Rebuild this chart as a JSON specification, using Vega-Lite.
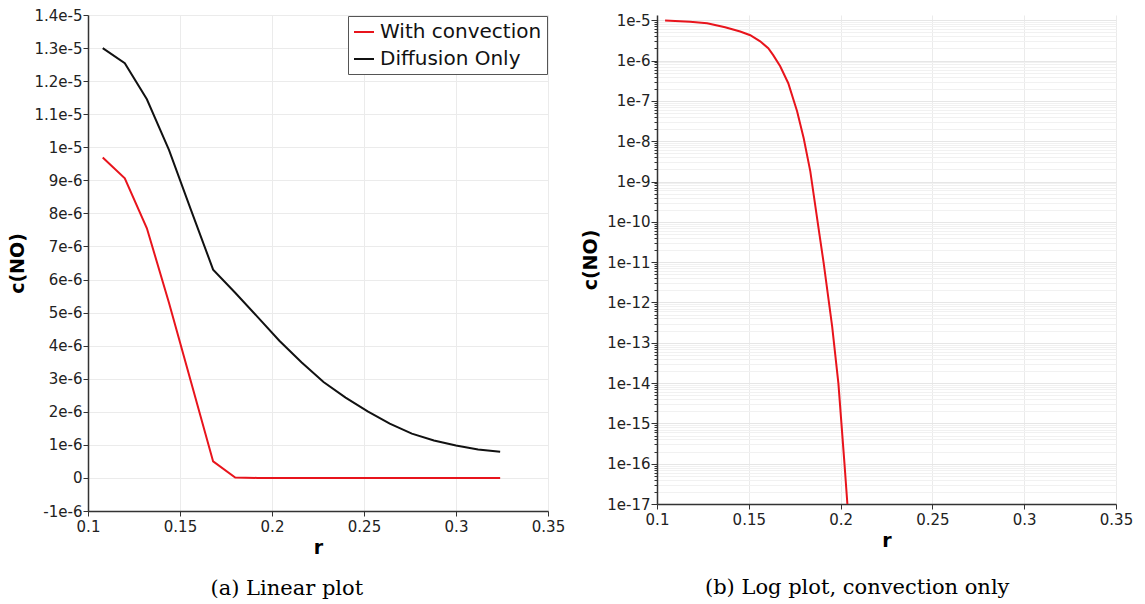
{
  "$schema": "https://vega.github.io/schema/vega-lite/v6.json",
  "background": "white",
  "padding": {"left": 8, "top": 8, "right": 0, "bottom": 0},
  "spacing": 109,
  "bounds": "flush",
  "resolve": {"legend": {"color": "independent"}},
  "config": {
    "font": "DejaVu Sans",
    "view": {"stroke": null},
    "axis": {
      "labelFont": "DejaVu Sans",
      "labelFontSize": 15,
      "labelColor": "#222222",
      "titleFont": "DejaVu Sans",
      "titleFontSize": 19,
      "titleFontWeight": "bold",
      "titleColor": "#000000",
      "domainColor": "#333333",
      "domainWidth": 1.5,
      "tickColor": "#333333",
      "tickSize": 5,
      "tickWidth": 1,
      "gridColor": "#ebebeb",
      "gridWidth": 1,
      "labelFlush": false,
      "labelOverlap": false
    },
    "axisX": {"labelPadding": 3, "titlePadding": 4},
    "axisY": {"labelPadding": 1, "titlePadding": 6},
    "title": {
      "font": "DejaVu Serif",
      "fontSize": 21,
      "fontWeight": "normal",
      "color": "#000000"
    }
  },
  "hconcat": [
    {
      "width": 460,
      "height": 496,
      "title": {"text": "(a) Linear plot", "orient": "bottom", "anchor": "middle", "frame": "bounds", "offset": 21},
      "data": {
        "values": [
          {"r": 0.108, "c": 9.69e-6, "series": "With convection"},
          {"r": 0.120, "c": 9.06e-6, "series": "With convection"},
          {"r": 0.132, "c": 7.55e-6, "series": "With convection"},
          {"r": 0.144, "c": 5.3e-6, "series": "With convection"},
          {"r": 0.156, "c": 2.9e-6, "series": "With convection"},
          {"r": 0.168, "c": 5.0e-7, "series": "With convection"},
          {"r": 0.180, "c": 1.5e-8, "series": "With convection"},
          {"r": 0.192, "c": 0, "series": "With convection"},
          {"r": 0.204, "c": 0, "series": "With convection"},
          {"r": 0.216, "c": 0, "series": "With convection"},
          {"r": 0.228, "c": 0, "series": "With convection"},
          {"r": 0.240, "c": 0, "series": "With convection"},
          {"r": 0.252, "c": 0, "series": "With convection"},
          {"r": 0.264, "c": 0, "series": "With convection"},
          {"r": 0.276, "c": 0, "series": "With convection"},
          {"r": 0.288, "c": 0, "series": "With convection"},
          {"r": 0.300, "c": 0, "series": "With convection"},
          {"r": 0.312, "c": 0, "series": "With convection"},
          {"r": 0.324, "c": 0, "series": "With convection"},
          {"r": 0.108, "c": 1.300e-5, "series": "Diffusion Only"},
          {"r": 0.120, "c": 1.254e-5, "series": "Diffusion Only"},
          {"r": 0.132, "c": 1.145e-5, "series": "Diffusion Only"},
          {"r": 0.144, "c": 9.92e-6, "series": "Diffusion Only"},
          {"r": 0.156, "c": 8.10e-6, "series": "Diffusion Only"},
          {"r": 0.168, "c": 6.30e-6, "series": "Diffusion Only"},
          {"r": 0.180, "c": 5.60e-6, "series": "Diffusion Only"},
          {"r": 0.192, "c": 4.88e-6, "series": "Diffusion Only"},
          {"r": 0.204, "c": 4.15e-6, "series": "Diffusion Only"},
          {"r": 0.216, "c": 3.50e-6, "series": "Diffusion Only"},
          {"r": 0.228, "c": 2.90e-6, "series": "Diffusion Only"},
          {"r": 0.240, "c": 2.43e-6, "series": "Diffusion Only"},
          {"r": 0.252, "c": 2.01e-6, "series": "Diffusion Only"},
          {"r": 0.264, "c": 1.64e-6, "series": "Diffusion Only"},
          {"r": 0.276, "c": 1.34e-6, "series": "Diffusion Only"},
          {"r": 0.288, "c": 1.13e-6, "series": "Diffusion Only"},
          {"r": 0.300, "c": 0.98e-6, "series": "Diffusion Only"},
          {"r": 0.312, "c": 0.86e-6, "series": "Diffusion Only"},
          {"r": 0.324, "c": 0.79e-6, "series": "Diffusion Only"}
        ]
      },
      "mark": {"type": "line", "strokeWidth": 2, "clip": true},
      "encoding": {
        "x": {
          "field": "r",
          "type": "quantitative",
          "scale": {"domain": [0.1, 0.35], "nice": false, "zero": false},
          "axis": {"title": "r", "values": [0.1, 0.15, 0.2, 0.25, 0.3, 0.35], "format": "~g"}
        },
        "y": {
          "field": "c",
          "type": "quantitative",
          "scale": {"domain": [-1e-6, 1.4e-5], "nice": false, "zero": false},
          "axis": {
            "title": "c(NO)",
            "values": [-1e-6, 0, 1e-6, 2e-6, 3e-6, 4e-6, 5e-6, 6e-6, 7e-6, 8e-6, 9e-6, 1e-5, 1.1e-5, 1.2e-5, 1.3e-5, 1.4e-5],
            "labelExpr": "datum.value == 0 ? '0' : replace(format(datum.value, '.2~e'), '\u2212', '-')"
          }
        },
        "color": {
          "field": "series",
          "type": "nominal",
          "scale": {"domain": ["With convection", "Diffusion Only"], "range": ["#e8141c", "#111111"]},
          "legend": {
            "orient": "top-right",
            "offset": 1,
            "title": null,
            "strokeColor": "#555555",
            "fillColor": "white",
            "padding": 5,
            "labelFont": "DejaVu Sans",
            "labelFontSize": 20,
            "labelColor": "#111111",
            "labelLimit": 400,
            "symbolType": "stroke",
            "symbolSize": 400,
            "symbolStrokeWidth": 2,
            "rowPadding": 6,
            "labelOffset": 5
          }
        }
      }
    },
    {
      "width": 459,
      "height": 489,
      "title": {"text": "(b) Log plot, convection only", "orient": "bottom", "anchor": "middle", "frame": "bounds", "offset": 27},
      "data": {
        "values": [
          {"r": 0.1044, "c": 9.84e-6},
          {"r": 0.1180, "c": 9.18e-6},
          {"r": 0.1273, "c": 8.43e-6},
          {"r": 0.1371, "c": 6.70e-6},
          {"r": 0.1453, "c": 5.25e-6},
          {"r": 0.1508, "c": 4.25e-6},
          {"r": 0.1562, "c": 3.01e-6},
          {"r": 0.1606, "c": 2.02e-6},
          {"r": 0.1633, "c": 1.36e-6},
          {"r": 0.1671, "c": 7.23e-7},
          {"r": 0.1715, "c": 2.74e-7},
          {"r": 0.1763, "c": 5.52e-8},
          {"r": 0.1799, "c": 1.18e-8},
          {"r": 0.1835, "c": 1.79e-9},
          {"r": 0.1880, "c": 6.90e-11},
          {"r": 0.1908, "c": 9.33e-12},
          {"r": 0.1954, "c": 2.55e-13},
          {"r": 0.1988, "c": 9.84e-15},
          {"r": 0.2021, "c": 1.02e-16},
          {"r": 0.2037, "c": 1e-17}
        ]
      },
      "mark": {"type": "line", "strokeWidth": 2, "color": "#e8141c", "clip": true},
      "encoding": {
        "x": {
          "field": "r",
          "type": "quantitative",
          "scale": {"domain": [0.1, 0.35], "nice": false, "zero": false},
          "axis": {"title": "r", "values": [0.1, 0.15, 0.2, 0.25, 0.3, 0.35], "format": "~g"}
        },
        "y": {
          "field": "c",
          "type": "quantitative",
          "scale": {"type": "log", "domain": [1e-17, 1.35e-5], "nice": false},
          "axis": {
            "title": "c(NO)",
            "values": [1e-17, 2e-17, 3e-17, 4e-17, 5e-17, 6e-17, 7e-17, 8e-17, 9e-17,
                       1e-16, 2e-16, 3e-16, 4e-16, 5e-16, 6e-16, 7e-16, 8e-16, 9e-16,
                       1e-15, 2e-15, 3e-15, 4e-15, 5e-15, 6e-15, 7e-15, 8e-15, 9e-15,
                       1e-14, 2e-14, 3e-14, 4e-14, 5e-14, 6e-14, 7e-14, 8e-14, 9e-14,
                       1e-13, 2e-13, 3e-13, 4e-13, 5e-13, 6e-13, 7e-13, 8e-13, 9e-13,
                       1e-12, 2e-12, 3e-12, 4e-12, 5e-12, 6e-12, 7e-12, 8e-12, 9e-12,
                       1e-11, 2e-11, 3e-11, 4e-11, 5e-11, 6e-11, 7e-11, 8e-11, 9e-11,
                       1e-10, 2e-10, 3e-10, 4e-10, 5e-10, 6e-10, 7e-10, 8e-10, 9e-10,
                       1e-9, 2e-9, 3e-9, 4e-9, 5e-9, 6e-9, 7e-9, 8e-9, 9e-9,
                       1e-8, 2e-8, 3e-8, 4e-8, 5e-8, 6e-8, 7e-8, 8e-8, 9e-8,
                       1e-7, 2e-7, 3e-7, 4e-7, 5e-7, 6e-7, 7e-7, 8e-7, 9e-7,
                       1e-6, 2e-6, 3e-6, 4e-6, 5e-6, 6e-6, 7e-6, 8e-6, 9e-6,
                       1e-5],
            "labelExpr": "abs(log(datum.value)/LN10 - round(log(datum.value)/LN10)) < 0.001 ? '1e' + round(log(datum.value)/LN10) : ''",
            "tickSize": {"condition": {"test": "abs(log(datum.value)/LN10 - round(log(datum.value)/LN10)) < 0.001", "value": 6}, "value": 3},
            "gridColor": {"condition": {"test": "abs(log(datum.value)/LN10 - round(log(datum.value)/LN10)) < 0.001", "value": "#e6e6e6"}, "value": "#f1f1f1"},
            "labelPadding": 1
          }
        }
      }
    }
  ]
}
